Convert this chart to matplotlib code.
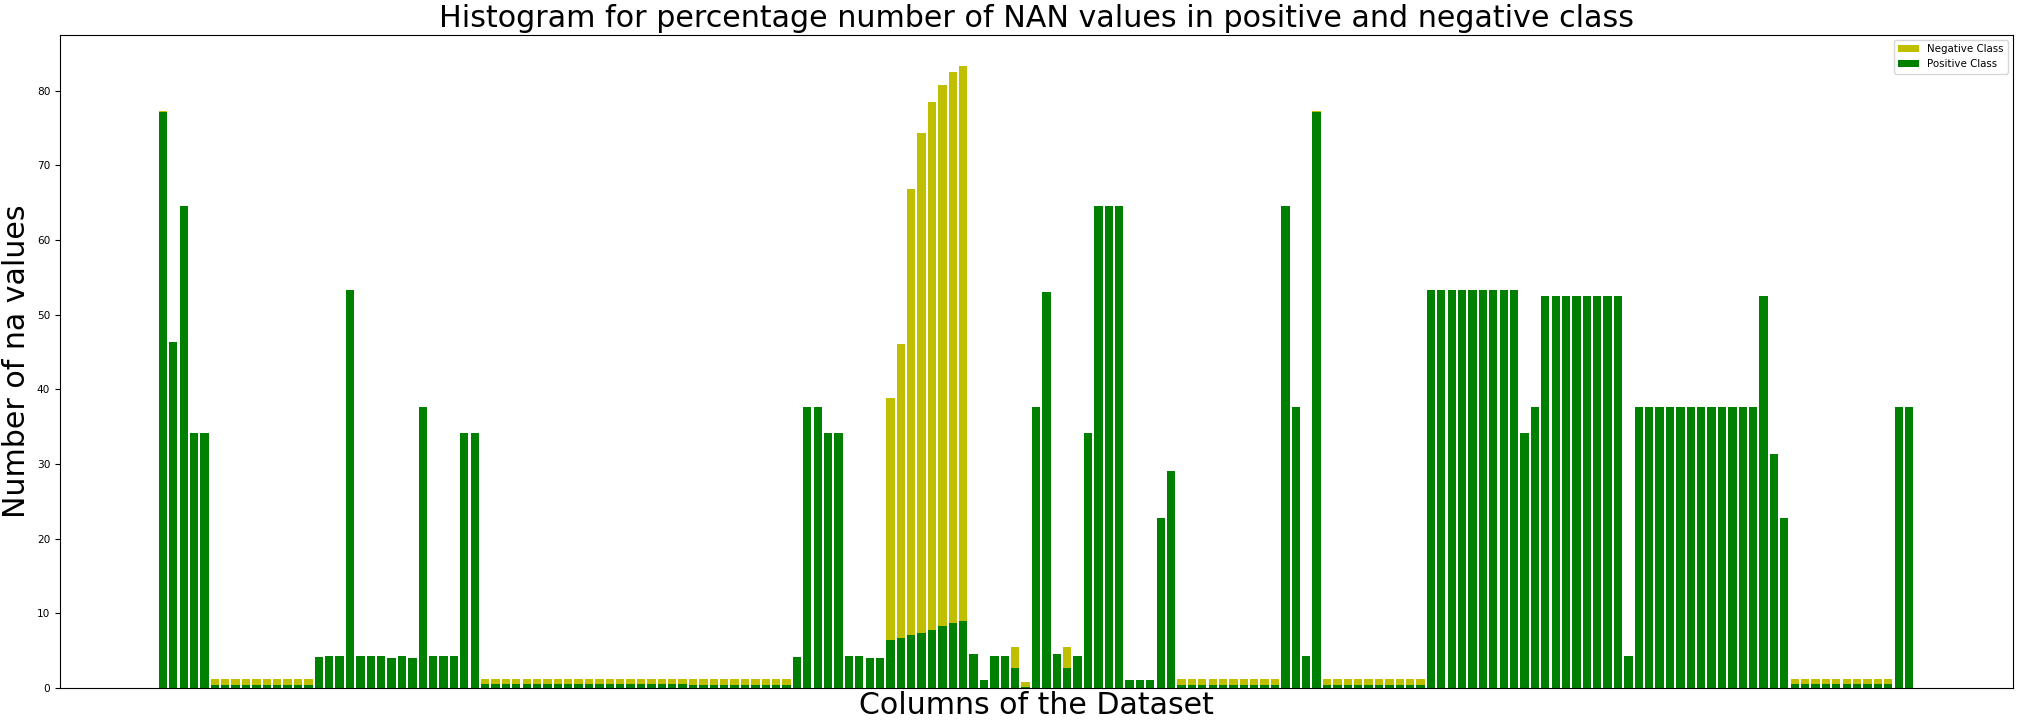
import numpy as np
import matplotlib
matplotlib.use("Agg")
import matplotlib.pyplot as plt

# Percentage of NaN values per column, positive class (green)
positive_pct = (
    [77.2, 46.3, 64.5, 34.1, 34.1]
    + [0.4] * 10
    + [4.2, 4.3, 4.3, 53.3, 4.3, 4.3, 4.3, 4.0, 4.3, 4.0, 37.7, 4.3, 4.3, 4.3, 34.1, 34.1]
    + [0.55] * 20
    + [0.4] * 10
    + [4.2, 37.7, 37.7, 34.1, 34.1, 4.3, 4.3, 4.0, 4.0]
    + [6.4, 6.7, 7.1, 7.4, 7.8, 8.3, 8.7, 9.0]
    + [4.6, 1.1, 4.3, 4.3, 2.7, 0.15, 37.7, 53.0, 4.6, 2.7, 4.3, 34.1,
       64.5, 64.5, 64.5, 1.1, 1.1, 1.1, 22.8, 29.0]
    + [0.4] * 10
    + [64.5, 37.7, 4.3, 77.2]
    + [0.4] * 10
    + [53.3] * 9
    + [34.1, 37.7]
    + [52.5] * 8
    + [4.3]
    + [37.7] * 12
    + [52.5, 31.4, 22.8]
    + [0.55] * 10
    + [37.7, 37.7]
)

# Percentage of NaN values per column, negative class (yellow)
negative_pct = (
    [77.3, 46.0, 64.2, 33.8, 33.8]
    + [1.2] * 10
    + [4.0, 4.1, 4.1, 53.0, 4.1, 4.1, 4.1, 3.8, 4.1, 3.8, 37.4, 4.1, 4.1, 4.1, 33.8, 33.8]
    + [1.2] * 20
    + [1.2] * 10
    + [4.0, 37.4, 37.4, 33.8, 33.8, 4.1, 4.1, 3.8, 3.8]
    + [38.9, 46.1, 66.9, 74.4, 78.5, 80.8, 82.5, 83.3]
    + [4.4, 0.9, 4.1, 4.1, 5.5, 0.8, 37.4, 52.7, 4.4, 5.5, 4.1, 33.8,
       64.2, 64.2, 64.2, 0.9, 0.9, 0.9, 22.5, 28.7]
    + [1.2] * 10
    + [64.2, 37.4, 4.1, 77.3]
    + [1.2] * 10
    + [53.0] * 9
    + [33.8, 37.4]
    + [52.2] * 8
    + [4.1]
    + [37.4] * 12
    + [52.2, 31.1, 22.5]
    + [1.2] * 10
    + [37.4, 37.4]
)

columns = np.arange(len(positive_pct))

fig = plt.figure(figsize=(20.23, 7.28), dpi=100)
ax = fig.add_axes([60 / 2023, 40 / 728, 1953 / 2023, 653 / 728])

ax.bar(columns, negative_pct, color="y", label="Negative Class")
ax.bar(columns, positive_pct, color="g", label="Positive Class")

ax.set_xlim(-9.9, len(columns) - 1 + 10.0)
ax.set_xticks([])
ax.tick_params(axis="y", labelsize=7.6)

ax.set_title("Histogram for percentage number of NAN values in positive and negative class",
             fontsize=21.7)
ax.set_xlabel("Columns of the Dataset", fontsize=21.6, labelpad=2)
ax.set_ylabel("Number of na values", fontsize=21.6)
ax.legend(loc="upper right", fontsize=7.4)

fig.savefig("out.png", dpi=100)
